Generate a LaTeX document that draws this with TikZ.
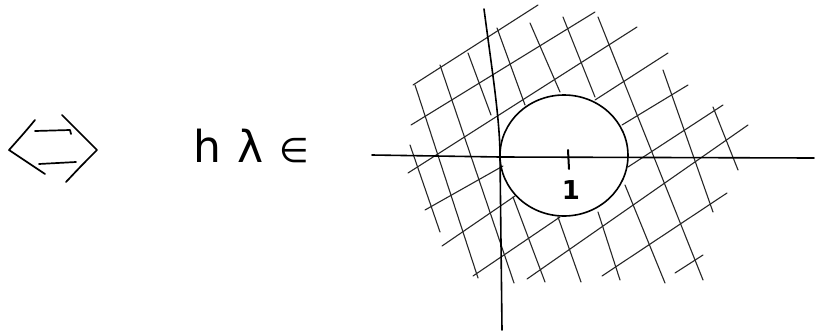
\documentclass[tikz,border=0pt]{standalone}
\usepackage{fontspec}
\newfontfamily\hand{DejaVu Sans}
\begin{document}
\begin{tikzpicture}[x=1pt,y=-1pt,line cap=round,line join=round,
  axisline/.style={line width=1.6pt,black},
  gridline/.style={line width=1.1pt,black!85},
  symline/.style={line width=1.7pt,black},
  handtext/.style={font=\hand\fontsize{44}{48}\selectfont,inner sep=0pt,anchor=base},
  labeltext/.style={font=\hand\bfseries\fontsize{26}{28}\selectfont,inner sep=0pt,anchor=base}]
\useasboundingbox (0,0) rectangle (816,335);
\fill[white] (0,0) rectangle (816,335);

% hand-drawn double arrow
\draw[symline] (35,120) .. controls (25,132) .. (9,150) -- (45,174);
\draw[symline] (62,115) -- (97,150) .. controls (82,165) .. (66,182);
\draw[symline] (35,131) -- (70,130) -- (71,134);
\draw[symline] (39,164) -- (76,162);

% text
\node[handtext] (h) at (207,162) {h};
\node[handtext] (lam) at (251,162) {λ};
\node[handtext,font=\hand\fontsize{34}{38}\selectfont] (elem) at (294,162) {∈};

% grid family A (rising to the right)
\draw[gridline] (413,85) -- (538,5);
\draw[gridline] (411,125) -- (595,12);
\draw[gridline] (408,173) -- (637,27);
\draw[gridline] (425,210) -- (503,166);
\draw[gridline] (595,100) -- (668,53);
\draw[gridline] (442,246) -- (515,196);
\draw[gridline] (622,125) -- (688,85);
\draw[gridline] (473,276) -- (560,217);
\draw[gridline] (628,167) -- (723,105);
\draw[gridline] (527,279) -- (748,125);
\draw[gridline] (602,276) -- (727,193);
\draw[gridline] (675,273) -- (703,255);

% grid family B (steep, falling to the right)
\draw[gridline] (410,145) -- (440,232);
\draw[gridline] (415,85) -- (478,278);
\draw[gridline] (440,65) -- (514,283);
\draw[gridline] (468,53) -- (491,115);
\draw[gridline] (513,197) -- (545,282);
\draw[gridline] (497,28) -- (525,105);
\draw[gridline] (558,217) -- (581,282);
\draw[gridline] (530,23) -- (560,92);
\draw[gridline] (598,212) -- (620,280);
\draw[gridline] (563,17) -- (595,97);
\draw[gridline] (625,185) -- (665,283);
\draw[gridline] (598,17) -- (703,280);
\draw[gridline] (663,70) -- (713,212);
\draw[gridline] (713,107) -- (738,170);

% axes
\draw[axisline] (372,155) -- (500,157) -- (814,158);
\draw[axisline] (484,9) .. controls (492,70) and (500,120) .. (500,157) -- (502,330);

% circle
\draw[axisline] (564,155.5) ellipse [x radius=64,y radius=60.5];

% tick and label
\coordinate (tickA) at (568,150);
\coordinate (tickB) at (569,169);
\draw[axisline,line width=2pt] (tickA) -- (tickB);
\node[labeltext] (one) at (571,199) {1};
\end{tikzpicture}
\end{document}
